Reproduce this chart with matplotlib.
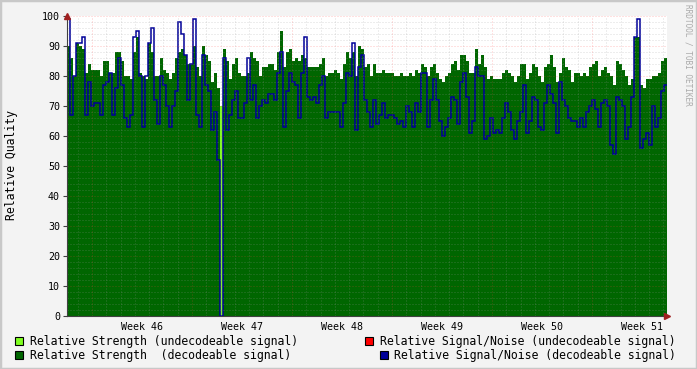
import numpy as np
import matplotlib
matplotlib.use("Agg")
import matplotlib.pyplot as plt
from matplotlib.patches import Rectangle

# one sample every ~5 hours (0.21 day), 200 samples over 6 weeks
strength = [90, 86, 80, 91, 90, 89, 81, 84, 82, 82, 82, 80, 85, 85, 81, 81, 88, 88, 85, 80,
            80, 79, 88, 93, 81, 80, 79, 91, 88, 80, 80, 86, 82, 81, 79, 81, 86, 88, 89, 87,
            84, 84, 90, 83, 80, 90, 87, 85, 78, 81, 76, 0, 89, 85, 79, 84, 86, 81, 80, 80,
            81, 88, 86, 85, 80, 83, 83, 84, 84, 82, 88, 95, 83, 88, 89, 85, 86, 85, 87, 86,
            83, 83, 83, 83, 84, 86, 80, 81, 81, 82, 81, 79, 84, 88, 86, 88, 80, 90, 89, 83,
            84, 80, 84, 81, 81, 82, 81, 81, 81, 80, 80, 81, 80, 80, 81, 80, 82, 81, 84, 83,
            80, 83, 84, 81, 79, 78, 80, 81, 84, 85, 82, 87, 87, 85, 81, 81, 89, 84, 87, 83,
            79, 80, 79, 79, 79, 81, 82, 81, 80, 78, 80, 84, 84, 79, 81, 84, 83, 80, 78, 83,
            84, 87, 83, 78, 81, 86, 83, 82, 78, 81, 81, 80, 81, 80, 83, 84, 85, 80, 82, 83,
            81, 80, 77, 85, 84, 82, 80, 77, 79, 93, 93, 77, 76, 79, 79, 80, 80, 81, 85, 86]

snr = [99, 67, 80, 91, 91, 93, 67, 78, 70, 71, 71, 67, 77, 78, 81, 67, 76, 86, 77, 66,
       63, 67, 93, 95, 80, 63, 80, 91, 96, 72, 64, 80, 77, 70, 63, 70, 75, 98, 94, 87,
       72, 84, 99, 67, 63, 87, 77, 75, 62, 68, 52, 0, 86, 62, 67, 72, 75, 66, 66, 71,
       86, 72, 77, 66, 70, 72, 71, 74, 74, 72, 81, 88, 63, 75, 81, 78, 77, 66, 81, 93,
       73, 72, 73, 71, 77, 80, 66, 68, 68, 68, 68, 63, 71, 81, 80, 91, 62, 83, 87, 72,
       68, 63, 72, 64, 67, 71, 66, 67, 67, 66, 64, 65, 63, 70, 68, 63, 71, 68, 81, 81,
       63, 72, 79, 72, 65, 60, 63, 66, 73, 72, 64, 78, 81, 73, 61, 65, 83, 80, 80, 59,
       60, 66, 61, 62, 61, 66, 71, 68, 62, 59, 65, 68, 77, 61, 65, 73, 72, 63, 62, 71,
       77, 74, 71, 61, 78, 72, 70, 66, 65, 65, 63, 66, 63, 68, 70, 72, 69, 63, 71, 72,
       70, 57, 54, 73, 72, 70, 59, 63, 73, 93, 99, 56, 59, 61, 57, 70, 63, 66, 75, 77]

# undecodeable signal only shows up once
strength_undec = [0] * 200
strength_undec[51] = 70

step = 0.21  # days per sample
edges = np.arange(len(strength) + 1) * step
week_labels = ["Week 46", "Week 47", "Week 48", "Week 49", "Week 50", "Week 51"]
first_week = 1.75  # day of first week boundary

W, H = 697, 369
plt.rcParams['font.family'] = ['DejaVu Sans Mono']
fig = plt.figure(figsize=(W / 100, H / 100), dpi=100, facecolor="#f3f3f3")
ax = fig.add_axes([67 / W, 53 / H, 600 / W, 300 / H])
ax.set_facecolor("white")

ax.stairs(strength, edges, fill=True, color="#006600", zorder=2)
ax.stairs(strength_undec, edges, fill=True, color="#80ff20", zorder=2)
ax.stairs(snr, edges, baseline=None, color="#000099", lw=1.1, zorder=3)

ax.set_xlim(0, 42)
ax.set_ylim(0, 100)

# grid: minor every 2 / every day, major every 10 / every week
dots = (0, (1, 2))
for v in range(2, 100, 2):
    if v % 10:
        ax.axhline(v, color="#999999", alpha=0.35, lw=0.72, ls=dots, zorder=4)
for d in np.arange(first_week - 1, 42, 1.0):
    if abs((d - first_week) % 7) > 0.01:
        ax.axvline(d, color="#999999", alpha=0.35, lw=0.72, ls=dots, zorder=4)
for v in range(10, 101, 10):
    ax.axhline(v, color="#ff4040", alpha=0.3, lw=0.72, ls=dots, zorder=4)
for d in np.arange(first_week, 42, 7.0):
    ax.axvline(d, color="#ff4040", alpha=0.3, lw=0.72, ls=dots, zorder=4)

for s in ["top", "right"]:
    ax.spines[s].set_visible(False)
for s in ["left", "bottom"]:
    ax.spines[s].set_color("#404040")
    ax.spines[s].set_linewidth(0.8)
    ax.spines[s].set_zorder(5)

ax.set_yticks(range(0, 101, 10))
ax.set_xticks(first_week + 3.5 + 7 * np.arange(6))
ax.set_xticklabels(week_labels)
ax.tick_params(axis="x", length=0, pad=4, labelsize=7.2)
ax.tick_params(axis="y", length=3, pad=2, labelsize=7.2, color="#404040")

# axis arrows
ax.plot([0], [1.0], marker="^", ms=4, color="#a02020", transform=ax.transAxes, clip_on=False, zorder=6)
ax.plot([1.0], [0], marker=">", ms=4, color="#a02020", transform=ax.transAxes, clip_on=False, zorder=6)

fig.text(12 / W, 1 - 165 / H, "Relative Quality", rotation=90, ha="center", va="center", fontsize=8.3)
fig.text(688 / W, 1 - 4 / H, "RRDTOOL / TOBI OETIKER", rotation=270, ha="center", va="top",
         fontsize=5.6, color="#aaaaaa")

# legend
entries = [
    (15, 337, "#80ff20", 30, 345, "Relative Strength (undecodeable signal)"),
    (15, 351, "#006600", 30, 359, "Relative Strength  (decodeable signal)"),
    (365, 337, "#ff0000", 380, 345, "Relative Signal/Noise (undecodeable signal)"),
    (380, 351, "#000099", 394, 359, "Relative Signal/Noise (decodeable signal)"),
]
for bx, by, col, tx, ty, label in entries:
    fig.add_artist(Rectangle((bx / W, 1 - (by + 8) / H), 8 / W, 8 / H, transform=fig.transFigure,
                             facecolor=col, edgecolor="black", lw=0.8))
    fig.text(tx / W, 1 - ty / H, label, ha="left", va="baseline", fontsize=8.3)

# frame
fig.add_artist(Rectangle((0, 0), 1, 1, transform=fig.transFigure, fill=False,
                         edgecolor="#c8c8c8", lw=2.5))

fig.savefig("out.png", dpi=100, facecolor=fig.get_facecolor())
